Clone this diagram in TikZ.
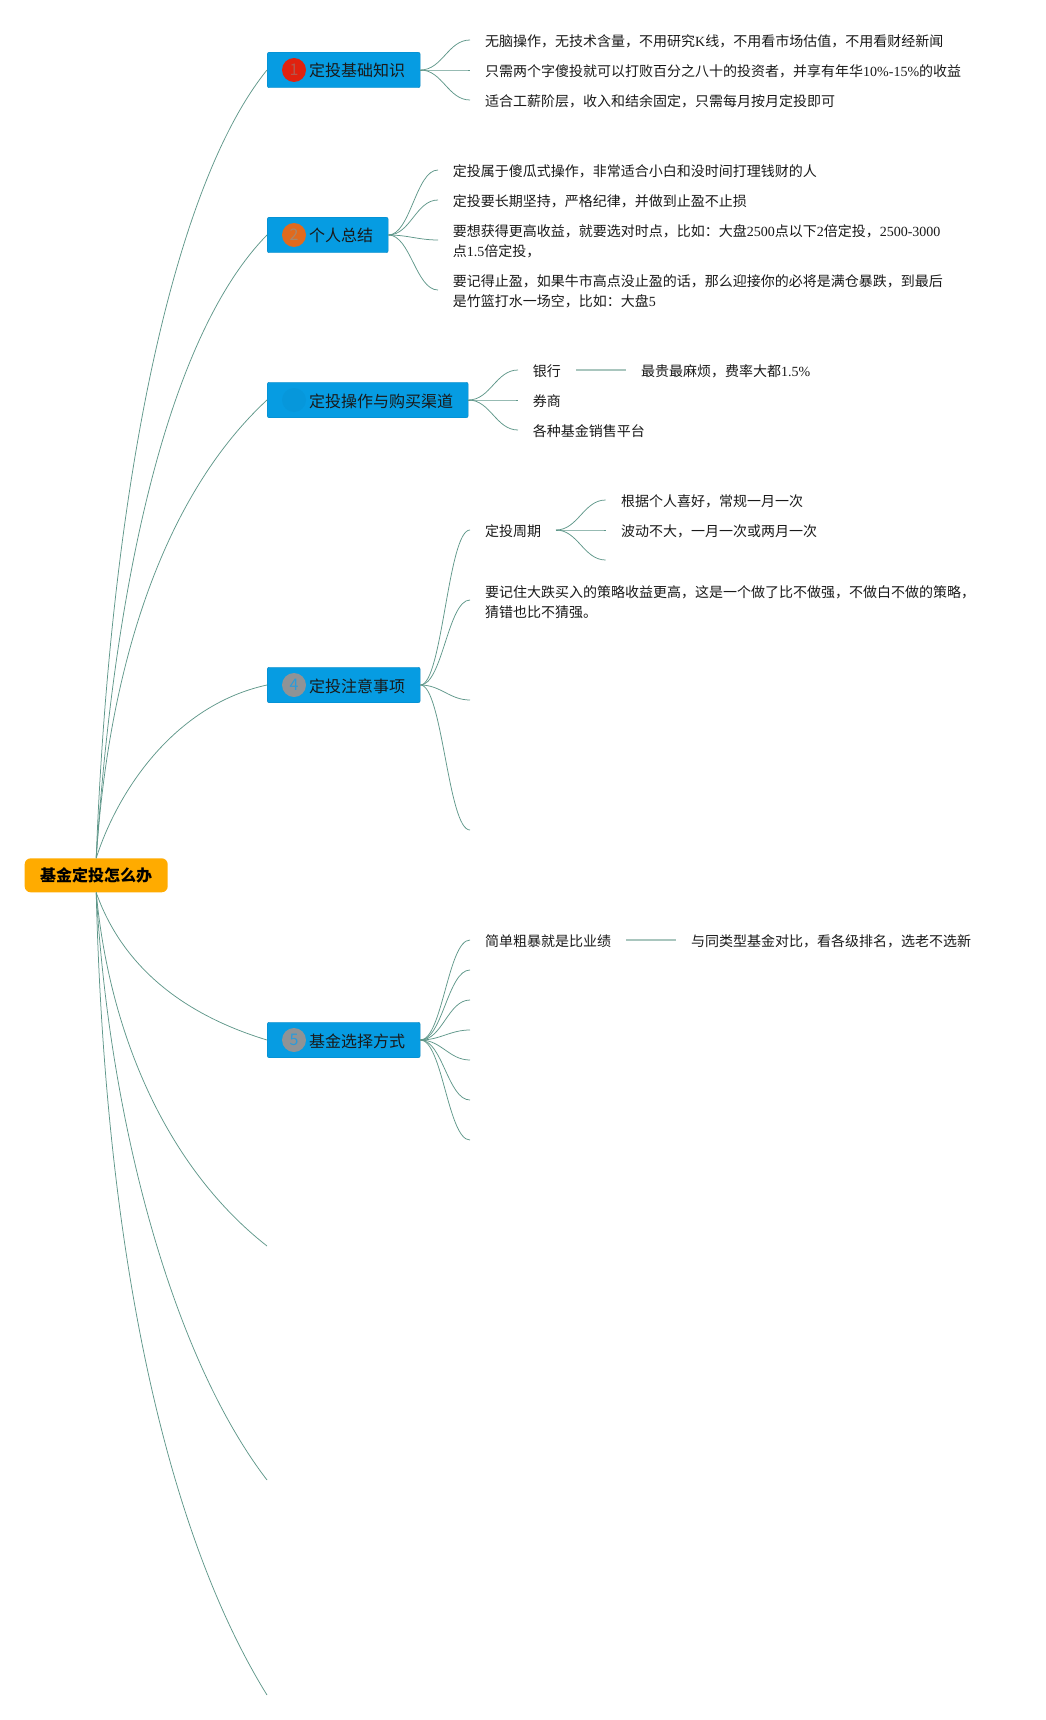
\documentclass[tikz,border=0pt]{standalone}
\usepackage{fontspec}
\usepackage{xcolor}
\setmainfont{Noto Sans CJK SC}
\newfontfamily\latinfont{Liberation Serif}
\newcommand{\lat}[1]{{\latinfont #1}}
\definecolor{limbcolor}{HTML}{5F978A}
\definecolor{barcolor}{HTML}{A9C6BE}
\definecolor{branchblue}{HTML}{069CE2}
\definecolor{rootorange}{HTML}{FFAB00}
\definecolor{badgered}{HTML}{E0220F}
\definecolor{badgeorange}{HTML}{E06A1E}
\definecolor{badgegray}{HTML}{8F9396}
\definecolor{digitred}{HTML}{B4584C}
\definecolor{digitorange}{HTML}{A98668}
\definecolor{digitblue}{HTML}{2B9BDA}
\tikzset{
  limb/.style={draw=limbcolor, line width=0.75pt},
  twig/.style={out=0, in=180, max distance=22pt},
  bar/.style={draw=barcolor, line width=1.3pt},
  rootbox/.style={fill=rootorange, rounded corners=6pt, minimum width=143pt, minimum height=34pt, inner sep=0pt, font=\fontsize{16}{20}\selectfont\bfseries},
  branch/.style={fill=branchblue, draw=branchblue!85!black, line width=0.4pt, rounded corners=2pt, anchor=west, minimum height=35.5pt, inner ysep=0pt, inner xsep=15pt, text height=17pt, text depth=3pt, font=\fontsize{16}{20}\selectfont, text=black!90, execute at begin node={\hspace*{27pt}}},
  badge/.style={circle, fill=#1, minimum size=24pt, inner sep=0pt, font=\fontsize{16}{20}\selectfont},
  leaf/.style={anchor=west, inner sep=0pt, align=left, font=\fontsize{14}{20}\selectfont, text=black!90}
}
\begin{document}
\begin{tikzpicture}[x=1pt, y=-1pt]
\useasboundingbox (0,0) rectangle (1045,1720);
\node[rootbox] (root) at (96.2,875.3) {基金定投怎么办};
\node[branch] (b1) at (267,70) {定投基础知识};
\node[branch] (b2) at (267,235) {个人总结};
\node[branch] (b3) at (267,400) {定投操作与购买渠道};
\node[branch] (b4) at (267,685) {定投注意事项};
\node[branch] (b5) at (267,1040) {基金选择方式};
\node[badge=badgered, text=digitred] (n1) at ([xshift=27pt]b1.west) {1};
\node[badge=badgeorange, text=digitorange] (n2) at ([xshift=27pt]b2.west) {2};
\node[badge={branchblue!97!black}] (n3) at ([xshift=27pt]b3.west) {};
\node[badge=badgegray, text=digitblue] (n4) at ([xshift=27pt]b4.west) {4};
\node[badge=badgegray, text=digitblue] (n5) at ([xshift=27pt]b5.west) {5};
\coordinate (e6) at (267,1246);
\coordinate (e7) at (267,1480);
\coordinate (e8) at (267,1695);
\draw[limb] (root.north) .. controls (110,500) and (170,190) .. (b1.west);
\draw[limb] (root.north) .. controls (115,574) and (170,334) .. (b2.west);
\draw[limb] (root.north) .. controls (110,650) and (170,490) .. (b3.west);
\draw[limb] (root.north) .. controls (118,790) and (175,705) .. (b4.west);
\draw[limb] (root.south) .. controls (120,960) and (175,1012) .. (b5.west);
\draw[limb] (root.south) .. controls (110,1040) and (170,1170) .. (e6);
\draw[limb] (root.south) .. controls (110,1130) and (175,1360) .. (e7);
\draw[limb] (root.south) .. controls (105,1250) and (165,1530) .. (e8);
\foreach \i/\y in {1/40,2/70,3/100} {
  \coordinate (t1\i) at (470,\y);
  \draw[limb] (b1.east) to[twig] (t1\i);
}
\foreach \i/\y in {1/170,2/200,3/240,4/290} {
  \coordinate (t2\i) at (438,\y);
  \draw[limb] (b2.east) to[twig] (t2\i);
}
\foreach \i/\y in {1/370,2/400,3/430} {
  \coordinate (t3\i) at (518,\y);
  \draw[limb] (b3.east) to[twig] (t3\i);
}
\foreach \i/\y in {1/530,2/600,3/700,4/830} {
  \coordinate (t4\i) at (470,\y);
  \draw[limb] (b4.east) to[twig] (t4\i);
}
\foreach \i/\y in {1/940,2/970,3/1000,4/1030,5/1060,6/1100,7/1140} {
  \coordinate (t5\i) at (470,\y);
  \draw[limb] (b5.east) to[twig] (t5\i);
}
\node[leaf] (a1) at (485,41) {无脑操作，无技术含量，不用研究\lat{K}线，不用看市场估值，不用看财经新闻};
\node[leaf] (a2) at (485,71) {只需两个字傻投就可以打败百分之八十的投资者，并享有年华\lat{10\%-15\%}的收益};
\node[leaf] (a3) at (485,101) {适合工薪阶层，收入和结余固定，只需每月按月定投即可};
\node[leaf] (c1) at (452.6,171) {定投属于傻瓜式操作，非常适合小白和没时间打理钱财的人};
\node[leaf] (c2) at (452.6,201) {定投要长期坚持，严格纪律，并做到止盈不止损};
\node[leaf] (c3) at (452.6,241.5) {要想获得更高收益，就要选对时点，比如：大盘\lat{2500}点以下\lat{2}倍定投，\lat{2500-3000}\\点\lat{1.5}倍定投，};
\node[leaf] (c4) at (452.6,291.5) {要记得止盈，如果牛市高点没止盈的话，那么迎接你的必将是满仓暴跌，到最后\\是竹篮打水一场空，比如：大盘\lat{5}};
\node[leaf] (bank) at (532.6,371) {银行};
\node[leaf] (cost) at (641,371) {最贵最麻烦，费率大都\lat{1.5\%}};
\node[leaf] (broker) at (532.6,401) {券商};
\node[leaf] (platform) at (532.6,431) {各种基金销售平台};
\draw[bar] ([xshift=15pt,yshift=1pt]bank.east) -- ([xshift=-15pt,yshift=1pt]cost.west);
\node[leaf] (cycle) at (485,531) {定投周期};
\coordinate (d0) at (556,530);
\foreach \i/\y in {1/500,2/530,3/560} {
  \coordinate (d\i) at (605.7,\y);
  \draw[limb] (d0) to[twig] (d\i);
}
\node[leaf] (f1) at (621,501) {根据个人喜好，常规一月一次};
\node[leaf] (f2) at (621,531) {波动不大，一月一次或两月一次};
\node[leaf] (g1) at (485,602) {要记住大跌买入的策略收益更高，这是一个做了比不做强，不做白不做的策略，\\猜错也比不猜强。};
\node[leaf] (h1) at (485,941) {简单粗暴就是比业绩};
\node[leaf] (h2) at (691,941) {与同类型基金对比，看各级排名，选老不选新};
\draw[bar] ([xshift=15pt,yshift=1pt]h1.east) -- ([xshift=-15pt,yshift=1pt]h2.west);
\end{tikzpicture}
\end{document}
